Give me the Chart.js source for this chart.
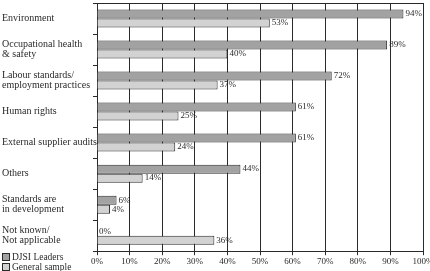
<!DOCTYPE html>
<html>
<head>
<meta charset="utf-8">
<script src="https://cdn.jsdelivr.net/npm/chart.js@4.4.0/dist/chart.umd.min.js"></script>
<style>
  html, body { margin: 0; padding: 0; background: #fff; }
  #wrap { width: 430px; height: 271px; position: relative; }
</style>
</head>
<body>
<div id="wrap"><canvas id="c" width="430" height="271"></canvas></div>
<script>
const categories = [
  "Environment",
  ["Occupational health", "& safety"],
  ["Labour standards/", "employment practices"],
  "Human rights",
  "External supplier audits",
  "Others",
  ["Standards are", "in development"],
  ["Not known/", "Not applicable"]
];
const djsiLeaders = [94, 89, 72, 61, 61, 44, 6, 0];
const generalSample = [53, 40, 37, 25, 24, 14, 4, 36];
const seriesNames = ["DJSI Leaders", "General sample"];
const xTicks = [0, 10, 20, 30, 40, 50, 60, 70, 80, 90, 100];

const FONT = "'Liberation Serif', 'DejaVu Serif', serif";
const INK = "#2a2a2a";
const DARK = "#a2a2a2";
const LIGHT = "#d2d2d2";

const labelPlugin = {
  id: 'valueLabels',
  afterDatasetsDraw(chart) {
    const ctx = chart.ctx;
    ctx.save();
    ctx.font = "9px " + FONT;
    ctx.fillStyle = INK;
    ctx.textAlign = 'left';
    ctx.textBaseline = 'middle';
    chart.data.datasets.forEach((ds, di) => {
      const meta = chart.getDatasetMeta(di);
      meta.data.forEach((el, i) => {
        const v = ds.data[i];
        ctx.fillText(v + '%', el.x + 2, el.y);
      });
    });
    // top frame line
    const a = chart.chartArea;
    ctx.strokeStyle = INK;
    ctx.lineWidth = 1;
    ctx.beginPath();
    ctx.moveTo(a.left, Math.round(a.top) + 0.5);
    ctx.lineTo(a.right, Math.round(a.top) + 0.5);
    ctx.stroke();
    // legend
    ctx.font = "9.5px " + FONT;
    ctx.textBaseline = 'middle';
    const items = [[seriesNames[0], DARK], [seriesNames[1], LIGHT]];
    items.forEach((it, k) => {
      const y = 253 + k * 10;
      ctx.fillStyle = it[1];
      ctx.fillRect(2.5, y + 0.5, 7, 7);
      ctx.strokeStyle = INK;
      ctx.strokeRect(2.5, y + 0.5, 7, 7);
      ctx.fillStyle = INK;
      ctx.fillText(it[0], 12, y + 4);
    });
    ctx.restore();
  }
};

new Chart(document.getElementById('c'), {
  type: 'bar',
  data: {
    labels: categories,
    datasets: [
      { label: seriesNames[0], data: djsiLeaders, backgroundColor: DARK, borderColor: INK, borderWidth: 1,
        categoryPercentage: 0.58, barPercentage: 1.0 },
      { label: seriesNames[1], data: generalSample, backgroundColor: LIGHT, borderColor: INK, borderWidth: 1,
        categoryPercentage: 0.58, barPercentage: 1.0 }
    ]
  },
  options: {
    indexAxis: 'y',
    responsive: false,
    animation: false,
    devicePixelRatio: 1,
    layout: { padding: { left: 2, right: 7, top: 3, bottom: 3 } },
    plugins: {
      legend: { display: false },
      tooltip: { enabled: false }
    },
    scales: {
      x: {
        type: 'linear',
        min: 0, max: 100,
        afterBuildTicks(scale) { scale.ticks = xTicks.map(v => ({ value: v })); },
        afterFit(scale) { scale.paddingRight = 0; scale.paddingLeft = 0; },
        ticks: {
          font: { family: FONT, size: 9 },
          color: INK,
          padding: 1,
          maxRotation: 0,
          autoSkip: false,
          callback: v => v + '%'
        },
        grid: { color: INK, lineWidth: 1, tickLength: 4, drawTicks: true },
        border: { color: INK, width: 1 }
      },
      y: {
        type: 'category',
        offset: true,
        afterFit(scale) { scale.width = 95; scale.paddingTop = 0; scale.paddingBottom = 0; },
        ticks: {
          font: { family: FONT, size: 10, lineHeight: 1.0 },
          color: INK,
          crossAlign: 'far',
          autoSkip: false
        },
        grid: { drawOnChartArea: false, color: INK, tickLength: 4, offset: true },
        border: { color: INK, width: 1 }
      }
    }
  },
  plugins: [labelPlugin]
});
</script>
</body>
</html>
